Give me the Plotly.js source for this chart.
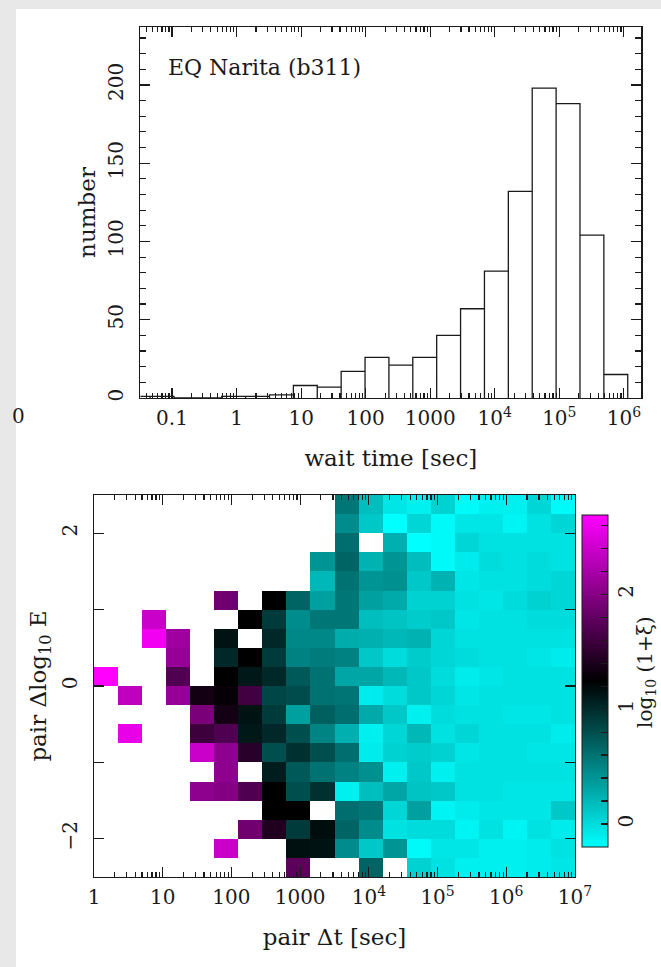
<!DOCTYPE html>
<html><head><meta charset="utf-8">
<script src="https://cdn.plot.ly/plotly-3.0.1.min.js"></script>
<style>html,body{margin:0;padding:0;background:#e8e8e8;} #chart{width:661px;height:967px;}</style>
</head><body><div id="chart"></div>
<script>
// ---------- top panel: wait-time histogram ----------
const histEdgesLog10 = [-1.71,-1.34,-0.97,-0.60,-0.23,0.14,0.51,0.88,1.25,1.62,1.99,2.36,2.73,3.10,3.47,3.84,4.21,4.58,4.95,5.32,5.69,6.06];
const histCounts = [1,1,0,0,1,1,2,8,7,17,26,21,26,40,57,81,132,198,188,104,15];
const histTickVals = [0.1,1,10,100,1000,1e4,1e5,1e6];
const histTickText = ['0.1','1','10','100','1000','10<sup>4</sup>','10<sup>5</sup>','10<sup>6</sup>'];

// ---------- bottom panel: pair map ----------
const dtEdgesLog10 = [0,0.35,0.7,1.05,1.4,1.75,2.1,2.45,2.8,3.15,3.5,3.85,4.2,4.55,4.9,5.25,5.6,5.95,6.3,6.65,7.0];
const dEEdges = [-2.5,-2.25,-2,-1.75,-1.5,-1.25,-1,-0.75,-0.5,-0.25,0,0.25,0.5,0.75,1,1.25,1.5,1.75,2,2.25,2.5];
const mapTickVals = [1,10,100,1000,1e4,1e5,1e6,1e7];
const mapTickText = ['1','10','100','1000','10<sup>4</sup>','10<sup>5</sup>','10<sup>6</sup>','10<sup>7</sup>'];
const dETickVals = [-2, 0, 2];
const dETickText = ['−2', '0', '2'];
const dEMinorVals = [-1, 1];
const n = null;
// rows listed from top (ΔlogE = +2.375) to bottom (-2.375); log10(1+ξ)
const xiRowsTopDown = [
 [n,n,n,n,n,n,n,n,n,n, 0.57,0.17,-0.06,-0.11,0.06,-0.17,-0.11,-0.11,0.03,-0.17],
 [n,n,n,n,n,n,n,n,n,n, 0.45,0.11,-0.20,0.03,-0.17,-0.06,-0.06,-0.14,-0.03,0.03],
 [n,n,n,n,n,n,n,n,n,n, 0.62,n,0.25,-0.20,-0.17,0.03,-0.03,-0.03,-0.03,-0.03],
 [n,n,n,n,n,n,n,n,n,0.40, 0.68,0.23,0.40,0.17,-0.17,-0.09,0.00,-0.03,0.00,-0.03],
 [n,n,n,n,n,n,n,n,n,0.20, 0.60,0.40,0.43,0.11,0.23,-0.06,-0.03,-0.03,0.00,0.03],
 [n,n,n,n,n,1.88,n,1.25,0.68,0.34, 0.57,0.34,0.28,0.06,0.06,-0.03,-0.06,0.00,0.06,0.03],
 [n,n,2.39,n,n,n,1.25,0.91,0.45,0.57, 0.57,0.17,0.14,0.09,0.11,-0.06,-0.03,-0.03,0.00,0.00],
 [n,n,2.61,2.16,n,1.14,n,1.02,0.48,0.48, 0.27,0.25,0.20,0.23,0.03,-0.03,-0.03,-0.03,-0.03,-0.03],
 [n,n,n,2.10,n,1.02,1.25,0.91,0.51,0.54, 0.51,0.11,0.00,0.09,0.03,0.00,-0.03,-0.03,-0.06,-0.09],
 [2.70,n,n,1.70,n,1.25,1.11,1.02,0.74,0.60, 0.31,0.31,0.20,0.11,0.00,-0.09,-0.06,-0.03,-0.03,-0.03],
 [n,2.33,n,2.10,1.35,1.28,1.62,0.85,0.82,0.60, 0.58,-0.09,0.00,0.11,0.03,-0.06,-0.03,-0.03,-0.03,-0.03],
 [n,n,n,n,1.93,1.36,1.14,0.91,0.34,0.70, 0.62,0.28,0.11,-0.11,0.00,-0.03,-0.03,-0.06,-0.06,-0.03],
 [n,2.56,n,n,1.59,1.70,1.11,1.02,0.80,0.50, 0.25,-0.11,0.03,0.20,-0.03,0.03,-0.03,-0.03,-0.03,-0.09],
 [n,n,n,n,2.39,2.05,1.48,0.80,0.97,0.80, 0.62,-0.09,0.06,0.09,0.06,-0.06,-0.03,-0.03,-0.06,-0.06],
 [n,n,n,n,n,2.05,n,1.08,0.74,0.60, 0.51,0.43,-0.11,0.11,-0.11,-0.03,-0.03,-0.03,-0.03,-0.03],
 [n,n,n,n,2.05,1.99,1.70,1.25,0.80,0.97, -0.11,0.17,0.31,0.14,0.11,-0.03,-0.03,-0.06,-0.06,-0.06],
 [n,n,n,n,n,n,n,1.25,1.25,n, 0.62,0.57,0.03,0.34,-0.14,-0.09,-0.06,-0.06,-0.06,0.11],
 [n,n,n,n,n,n,1.88,1.42,0.91,1.17, 0.68,0.45,-0.03,0.00,0.00,-0.14,-0.03,-0.14,-0.03,-0.09],
 [n,n,n,n,n,2.39,n,n,1.16,1.14, 0.45,0.11,0.40,-0.17,-0.06,-0.06,-0.11,-0.11,-0.09,-0.03],
 [n,n,n,n,n,n,n,n,1.76,n, n,0.68,n,0.06,-0.03,-0.11,-0.11,-0.11,-0.09,-0.06]
];

// ---------- helpers ----------
const W = 661, H = 967;
const px = v => v / W;          // horizontal pixel -> paper
const py = v => 1 - v / H;      // vertical pixel (from top) -> paper
const toSec = e => Math.pow(10, e);

function minorVals(lo, hi) {
  const out = [];
  for (let d = lo; d <= hi; d++) for (let k = 2; k <= 9; k++) out.push(k * Math.pow(10, d));
  return out;
}

// histogram outline: each bin as its own rectangle (left, top, right sides)
const hx = [], hy = [];
histCounts.forEach((c, i) => {
  const a = toSec(histEdgesLog10[i]), b = toSec(histEdgesLog10[i + 1]);
  hx.push(a, a, b, b); hy.push(0, c, c, 0);
});

const FONT = 'DejaVu Serif, Liberation Serif, serif';
const INK = '#1a1a1a';

const histTrace = {
  type: 'scatter', mode: 'lines', x: hx, y: hy, xaxis: 'x', yaxis: 'y',
  line: {color: INK, width: 1.3}, hoverinfo: 'skip', showlegend: false
};

const mapTrace = {
  type: 'heatmap', xaxis: 'x2', yaxis: 'y2',
  x: dtEdgesLog10.map(toSec), y: dEEdges,
  z: xiRowsTopDown.slice().reverse(),
  zmin: -0.2, zmax: 2.69, zsmooth: false, hoverongaps: false,
  colorscale: [[0, '#00ffff'], [0.5, '#000000'], [1, '#ff00ff']],
  colorbar: {
    x: px(582), xanchor: 'left', xref: 'paper', xpad: 0, ypad: 0,
    y: py(681), yanchor: 'middle', len: 332, lenmode: 'pixels',
    thickness: 26, thicknessmode: 'pixels',
    outlinewidth: 1, outlinecolor: INK, borderwidth: 0,
    ticks: 'inside', ticklen: 7, tickwidth: 1.2, tickcolor: INK,
    tickmode: 'linear', tick0: 0, dtick: 0.2, ticklabelstep: 5, tickformat: 'd',
    tickangle: -90, tickfont: {family: FONT, size: 20, color: INK}
  }
};

const axisCommon = {
  showline: true, linecolor: INK, linewidth: 1.3, mirror: 'allticks',
  ticks: 'inside', tickcolor: INK, tickwidth: 1.2, showgrid: false, zeroline: false,
  tickfont: {family: FONT, size: 20, color: INK}
};

const layout = {
  width: W, height: H,
  margin: {l: 0, r: 0, t: 0, b: 0},
  paper_bgcolor: '#e8e8e8', plot_bgcolor: '#ffffff',
  font: {family: FONT, color: INK},
  showlegend: false,
  xaxis: Object.assign({}, axisCommon, {
    type: 'log', domain: [px(140.4), px(641.3)], range: [-1.49, 6.27], anchor: 'y',
    tickmode: 'array', tickvals: histTickVals, ticktext: histTickText, ticklen: 10,
    ticklabelstandoff: 2,
    minor: {ticks: 'inside', ticklen: 5, tickcolor: INK, tickwidth: 1.2, tickmode: 'array', tickvals: minorVals(-2, 6), showgrid: false},
    title: {text: 'wait time [sec]', font: {family: FONT, size: 23, color: INK}, standoff: 20}
  }),
  yaxis: Object.assign({}, axisCommon, {
    domain: [py(398), py(27)], range: [0, 237], anchor: 'x',
    tick0: 0, dtick: 50, ticklen: 10, tickangle: -90, ticklabelstandoff: 8,
    minor: {ticks: 'inside', ticklen: 6, tickcolor: INK, tickwidth: 1.2, dtick: 10, showgrid: false},
    title: {text: 'number', font: {family: FONT, size: 23, color: INK}, standoff: 2}
  }),
  xaxis2: Object.assign({}, axisCommon, {
    type: 'log', domain: [px(94), px(575)], range: [0, 7], anchor: 'y2',
    tickmode: 'array', tickvals: mapTickVals, ticktext: mapTickText, ticklen: 10,
    ticklabelstandoff: 2,
    minor: {ticks: 'inside', ticklen: 5, tickcolor: INK, tickwidth: 1.2, tickmode: 'array', tickvals: minorVals(0, 6), showgrid: false},
    title: {text: 'pair Δt [sec]', font: {family: FONT, size: 23, color: INK}, standoff: 20}
  }),
  yaxis2: Object.assign({}, axisCommon, {
    domain: [py(877), py(495)], range: [-2.5, 2.5], anchor: 'x2',
    tickmode: 'array', tickvals: dETickVals, ticktext: dETickText,
    ticklen: 10, tickangle: -90, ticklabelstandoff: 8,
    minor: {ticks: 'inside', ticklen: 10, tickcolor: INK, tickwidth: 1.2, tickmode: 'array', tickvals: dEMinorVals, showgrid: false},
    title: {text: 'pair Δlog<sub>10</sub> E', font: {family: FONT, size: 23, color: INK}, standoff: 4}
  }),
  shapes: [
    {type: 'rect', xref: 'paper', yref: 'paper', x0: px(16), x1: 1, y0: 0, y1: py(9),
     fillcolor: '#ffffff', line: {width: 0}, layer: 'below'}
  ],
  annotations: [
    {text: 'EQ Narita (b311)', xref: 'paper', yref: 'paper', x: px(166), y: py(68),
     xanchor: 'left', yanchor: 'middle', showarrow: false,
     font: {family: FONT, size: 22, color: INK}},
    {text: 'log<sub>10</sub> (1+ξ)', xref: 'paper', yref: 'paper', x: px(646), y: py(672),
     xanchor: 'center', yanchor: 'middle', textangle: -90, showarrow: false,
     font: {family: FONT, size: 20, color: INK}},
    {text: '0', xref: 'paper', yref: 'paper', x: px(18), y: py(416),
     xanchor: 'center', yanchor: 'middle', showarrow: false,
     font: {family: FONT, size: 20, color: INK}}
  ]
};

Plotly.newPlot('chart', [histTrace, mapTrace], layout, {staticPlot: true, displayModeBar: false});
</script>
</body></html>
